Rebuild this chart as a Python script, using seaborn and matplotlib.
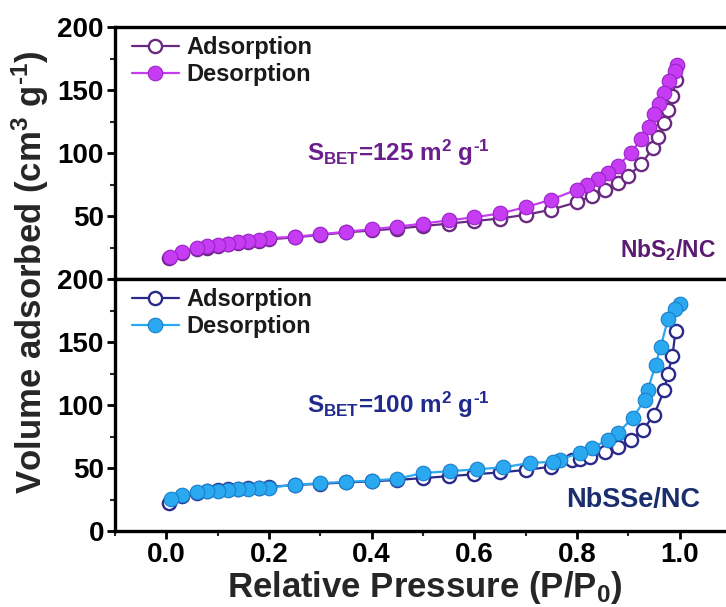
import numpy as np
import pandas as pd
import matplotlib
matplotlib.use("Agg")
import matplotlib.pyplot as plt
import seaborn as sns
from matplotlib.ticker import MultipleLocator

sns.set_theme(style="ticks")
plt.rcParams['font.family'] = ['Liberation Sans', 'DejaVu Sans']
plt.rcParams['font.weight'] = 'bold'
plt.rcParams['mathtext.fontset'] = 'custom'
plt.rcParams['mathtext.rm'] = 'Liberation Sans:bold'
plt.rcParams['mathtext.bf'] = 'Liberation Sans:bold'
plt.rcParams['mathtext.it'] = 'Liberation Sans:bold'
plt.rcParams['mathtext.default'] = 'bf'

# ---- Data: NbS2/NC ----
nbs2_ads_p = [0.005, 0.03, 0.06, 0.08, 0.10, 0.12, 0.14, 0.16, 0.18, 0.20, 0.25, 0.30, 0.35, 0.40,
              0.45, 0.50, 0.55, 0.60, 0.65, 0.70, 0.75, 0.80, 0.83, 0.855, 0.88, 0.90, 0.925,
              0.948, 0.957, 0.97, 0.978, 0.986, 0.992]
nbs2_ads_v = [16.5, 20.5, 23.5, 25.0, 26.5, 27.5, 28.5, 29.5, 30.5, 31.5, 33.0, 35.0, 37.0, 38.5,
              40.0, 42.0, 44.0, 46.0, 48.0, 51.0, 55.0, 61.0, 66.0, 71.0, 76.0, 82.0, 91.0,
              104.0, 113.0, 124.0, 134.0, 145.0, 158.0]
nbs2_des_p = [0.995, 0.99, 0.98, 0.97, 0.96, 0.95, 0.94, 0.925, 0.905, 0.88, 0.86, 0.84, 0.82,
              0.80, 0.75, 0.70, 0.65, 0.60, 0.55, 0.50, 0.45, 0.40, 0.35, 0.30, 0.25, 0.20,
              0.18, 0.16, 0.14, 0.12, 0.10, 0.08, 0.06, 0.03, 0.008]
nbs2_des_v = [170.0, 165.0, 157.0, 148.0, 139.0, 131.0, 121.0, 111.0, 100.0, 90.0, 84.0, 79.0,
              75.0, 71.0, 63.0, 57.0, 52.0, 49.0, 46.5, 44.0, 41.5, 39.5, 37.5, 35.5, 33.5, 32.5,
              31.0, 30.0, 29.0, 28.0, 27.0, 26.0, 24.5, 21.5, 17.5]

# ---- Data: NbSSe/NC ----
nbsse_ads_p = [0.005, 0.03, 0.06, 0.08, 0.10, 0.12, 0.14, 0.16, 0.18, 0.20, 0.25, 0.30, 0.35, 0.40,
               0.45, 0.50, 0.55, 0.60, 0.65, 0.70, 0.75, 0.79, 0.805, 0.825, 0.855, 0.88, 0.905,
               0.928, 0.95, 0.97, 0.977, 0.986, 0.992]
nbsse_ads_v = [22.0, 28.0, 30.5, 31.5, 32.5, 33.0, 33.5, 34.0, 34.5, 35.0, 36.5, 37.5, 38.5, 39.5,
               40.5, 42.0, 43.5, 45.0, 46.5, 48.5, 51.0, 56.0, 57.5, 59.0, 63.0, 67.0, 72.5,
               80.0, 92.0, 112.0, 125.0, 139.0, 159.0]
nbsse_des_p = [1.0, 0.99, 0.977, 0.963, 0.953, 0.938, 0.932, 0.909, 0.88, 0.86, 0.83, 0.806,
               0.767, 0.753, 0.708, 0.656, 0.605, 0.553, 0.50, 0.45, 0.40, 0.35, 0.30, 0.25, 0.20,
               0.18, 0.16, 0.14, 0.12, 0.10, 0.08, 0.06, 0.03, 0.01]
nbsse_des_v = [180.0, 176.0, 168.0, 146.0, 132.0, 112.0, 104.0, 90.0, 78.0, 72.5, 66.0, 62.0,
               56.6, 55.0, 54.0, 50.5, 49.0, 47.5, 46.0, 41.5, 40.0, 39.0, 38.0, 36.6, 34.5,
               34.0, 33.5, 33.0, 32.5, 32.0, 31.5, 31.0, 28.7, 25.5]

ticks_x = [0.0, 0.2, 0.4, 0.6, 0.8, 1.0]
tick_labels_x = ['0.0', '0.2', '0.4', '0.6', '0.8', '1.0']
ticks_top = [50, 100, 150, 200]
ticks_bot = [0, 50, 100, 150, 200]

fig = plt.figure(figsize=(7.26, 6.07), dpi=100)
W, H = 726, 607
def rect(l, t, r, b):
    return [l / W, 1 - b / H, (r - l) / W, (b - t) / H]

ax1 = fig.add_axes(rect(115, 27, 731, 279))
ax2 = fig.add_axes(rect(115, 279, 731, 531))

HY = '\u2010'
panels = [
    (ax1, nbs2_ads_p, nbs2_ads_v, nbs2_des_p, nbs2_des_v, '#6a2a80', '#c63cf2', '#9a22c8',
     r'S$_{BET}$=125 m$^{2}$ g$^{' + HY + r'1}$', '#6a1f8c', r'NbS$_{2}$/NC', '#5a1a72',
     1.072, 23, 16.5, ticks_top),
    (ax2, nbsse_ads_p, nbsse_ads_v, nbsse_des_p, nbsse_des_v, '#2a2a8a', '#2aa8f0', '#1a7fcc',
     r'S$_{BET}$=100 m$^{2}$ g$^{' + HY + r'1}$', '#1f2a8c', 'NbSSe/NC', '#1a2e6e',
     1.039, 25, 19.5, ticks_bot),
]

for (ax, ap, av, dp, dv, ac, dc, dec, sbet, sbc, name, nc, nx, ny, nfs, yt) in panels:
    dfa = pd.DataFrame({'p': ap, 'v': av})
    dfd = pd.DataFrame({'p': dp, 'v': dv})
    sns.lineplot(data=dfa, x='p', y='v', ax=ax, sort=False, estimator=None, color=ac,
                 lw=1.6, marker='o', ms=9.5, mfc='white', mec=ac, mew=1.7, label='Adsorption')
    sns.lineplot(data=dfd, x='p', y='v', ax=ax, sort=False, estimator=None, color=dc,
                 lw=1.6, marker='o', ms=10.5, mfc=dc, mec=dec, mew=0.8, label='Desorption')
    ax.set_xlim(-0.1, 1.1)
    ax.set_ylim(0, 200)
    ax.set_yticks(yt)
    ax.yaxis.set_minor_locator(MultipleLocator(25))
    ax.xaxis.set_minor_locator(MultipleLocator(0.1))
    ax.set_xticks(ticks_x)
    ax.set_xlabel('')
    ax.set_ylabel('')
    for s in ax.spines.values():
        s.set_linewidth(2.4)
        s.set_color('black')
    ax.tick_params(axis='both', which='major', direction='out', length=6, width=2,
                   labelsize=20, colors='black', pad=2)
    ax.tick_params(axis='both', which='minor', direction='out', length=3.5, width=1.5)
    for lab in ax.get_yticklabels() + ax.get_xticklabels():
        lab.set_fontweight('bold')
    leg = ax.legend(loc='upper left', frameon=False, fontsize=17, handlelength=2.0,
                    handletextpad=0.3, borderaxespad=0.0, labelspacing=0.15,
                    bbox_to_anchor=(0.012, 1.0))
    for t in leg.get_texts():
        t.set_fontweight('bold')
        t.set_color('#1a1a1a')
    ax.text(0.274, 100, sbet, color=sbc, fontsize=17.5, fontweight='bold', va='center', ha='left')
    ax.text(nx, ny, name, color=nc, fontsize=nfs, fontweight='bold', va='center', ha='right')

ax1.tick_params(axis='x', which='both', bottom=False, labelbottom=False)
ax2.set_xticklabels(tick_labels_x)
for lab in ax2.get_xticklabels():
    lab.set_fontweight('bold')

fig.text(425 / W, 1 - 588 / H, r'Relative Pressure (P/P$_{0}$)', ha='center',
         va='center', fontsize=25, fontweight='bold')
fig.text(30 / W, 1 - 272 / H, r'Volume adsorbed (cm$^{3}$ g$^{' + HY + r'1}$)', ha='center',
         va='center', rotation=90, fontsize=25, fontweight='bold')

fig.savefig('out.png', dpi=100)
